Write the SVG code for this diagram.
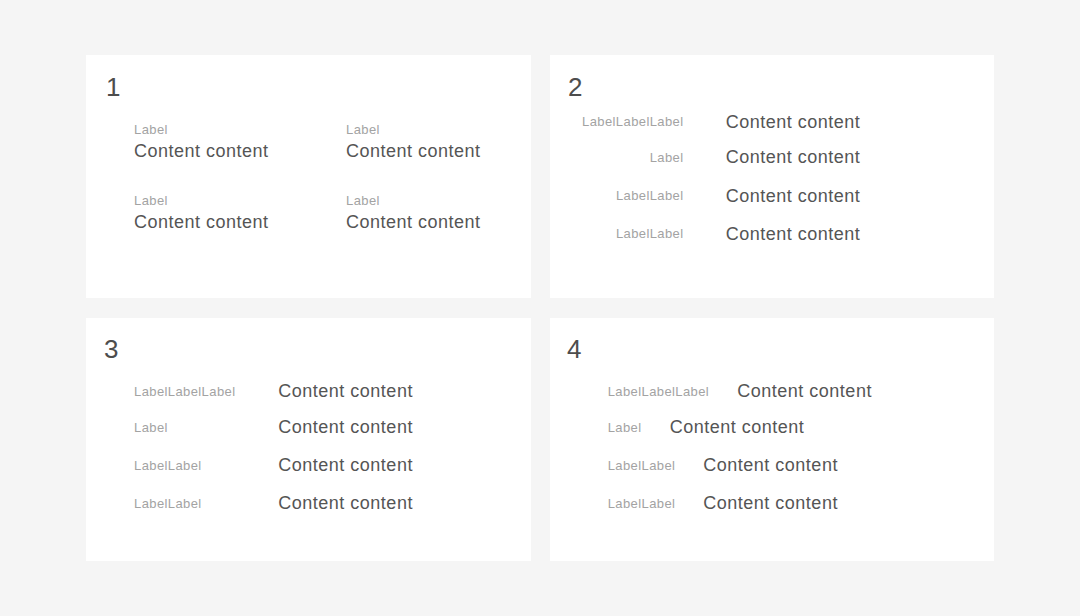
<svg xmlns="http://www.w3.org/2000/svg" width="1080" height="616" viewBox="0 0 1080 616">
<style>
.card{fill:#ffffff}
.num{font-family:"Liberation Sans",Arial,sans-serif;font-size:26px;fill:#4d4d4d}
.lbl{font-family:"Liberation Sans",Arial,sans-serif;font-size:13px;fill:#a3a3a3;letter-spacing:0.4px}
.cnt{font-family:"Liberation Sans",Arial,sans-serif;font-size:18px;fill:#555555;letter-spacing:0.5px}
.r{text-anchor:end}
</style>
<rect x="0" y="0" width="1080" height="616" fill="#f5f5f5"/>
<g id="panel1">
<rect class="card" x="86" y="55" width="445" height="243"/>
<text class="num" x="106" y="95.5">1</text>
<text class="lbl" x="134" y="133.5">Label</text>
<text class="cnt" x="134" y="157.3">Content content</text>
<text class="lbl" x="346" y="133.5">Label</text>
<text class="cnt" x="346" y="157.3">Content content</text>
<text class="lbl" x="134" y="205">Label</text>
<text class="cnt" x="134" y="228">Content content</text>
<text class="lbl" x="346" y="205">Label</text>
<text class="cnt" x="346" y="228">Content content</text>
</g>
<g id="panel2">
<rect class="card" x="550" y="55" width="444" height="243"/>
<text class="num" x="568" y="95.5">2</text>
<text class="lbl r" x="683.5" y="126">LabelLabelLabel</text>
<text class="cnt" x="725.7" y="127.7">Content content</text>
<text class="lbl r" x="683.5" y="162">Label</text>
<text class="cnt" x="725.7" y="163.3">Content content</text>
<text class="lbl r" x="683.5" y="200">LabelLabel</text>
<text class="cnt" x="725.7" y="201.7">Content content</text>
<text class="lbl r" x="683.5" y="238.3">LabelLabel</text>
<text class="cnt" x="725.7" y="240">Content content</text>
</g>
<g id="panel3">
<rect class="card" x="86" y="318" width="445" height="243"/>
<text class="num" x="104" y="357.7">3</text>
<text class="lbl" x="134" y="396">LabelLabelLabel</text>
<text class="cnt" x="278.3" y="397">Content content</text>
<text class="lbl" x="134" y="432">Label</text>
<text class="cnt" x="278.3" y="432.7">Content content</text>
<text class="lbl" x="134" y="470.3">LabelLabel</text>
<text class="cnt" x="278.3" y="471">Content content</text>
<text class="lbl" x="134" y="508">LabelLabel</text>
<text class="cnt" x="278.3" y="509.3">Content content</text>
</g>
<g id="panel4">
<rect class="card" x="550" y="318" width="444" height="243"/>
<text class="num" x="567" y="357.7">4</text>
<text class="lbl" x="607.7" y="396">LabelLabelLabel</text>
<text class="cnt" x="737.3" y="397">Content content</text>
<text class="lbl" x="607.7" y="432">Label</text>
<text class="cnt" x="669.7" y="432.7">Content content</text>
<text class="lbl" x="607.7" y="470.3">LabelLabel</text>
<text class="cnt" x="703.3" y="471">Content content</text>
<text class="lbl" x="607.7" y="508">LabelLabel</text>
<text class="cnt" x="703.3" y="509.3">Content content</text>
</g>
<g id="connectors"></g>
</svg>
